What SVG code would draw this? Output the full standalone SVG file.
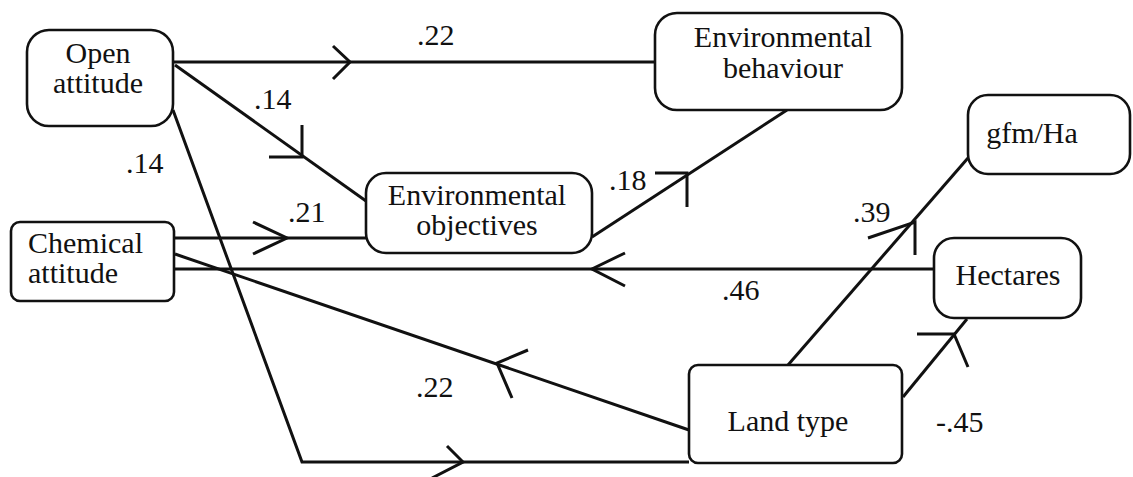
<svg xmlns="http://www.w3.org/2000/svg" width="1133" height="477" viewBox="0 0 1133 477" font-family="'Liberation Serif', 'DejaVu Serif', 'Times New Roman', serif">
  <style>
    .box { fill: #fff; stroke: #111; stroke-width: 2.6; }
    text { font-family: 'Liberation Serif', 'DejaVu Serif', 'Times New Roman', serif; fill: #111; }
    .lbl { font-size: 30px; }
    .num { font-size: 30px; }
    .edge { fill: none; stroke: #111; stroke-width: 3; stroke-linejoin: miter; }
    .head { fill: none; stroke: #111; stroke-width: 3; stroke-linejoin: miter; }
  </style>
  <rect width="1133" height="477" fill="#fff"/>

  <!-- connectors: lines, path arrowheads and coefficients -->
  <g id="connectors">
    <!-- Open attitude -> Environmental behaviour -->
    <path class="edge" d="M173 62 H655"/>
    <path class="head" d="M333 46 L350 62 L333 79"/>
    <text class="num" x="417" y="45">.22</text>

    <!-- Open attitude -> Environmental objectives -->
    <path class="edge" d="M175 65 L366 201"/>
    <path class="head" d="M302 125 V157 H269"/>
    <text class="num" x="254" y="109">.14</text>

    <!-- Open attitude -> Land type -->
    <path class="edge" d="M173 110 L302 462 H689"/>
    <path class="head" d="M447 446 L463 462 L432 478"/>
    <text class="num" x="126" y="173">.14</text>

    <!-- Chemical attitude -> Environmental objectives -->
    <path class="edge" d="M174 238 H366"/>
    <path class="head" d="M253 222 L287 238 L253 254"/>
    <text class="num" x="288" y="222">.21</text>

    <!-- Hectares -> Chemical attitude -->
    <path class="edge" d="M174 269 H934"/>
    <path class="head" d="M625 253 L592 269 L625 286"/>
    <text class="num" x="722" y="300">.46</text>

    <!-- Land type -> Chemical attitude -->
    <path class="edge" d="M175 254 L689 430"/>
    <path class="head" d="M528 350 L497 363 L512 398"/>
    <text class="num" x="416" y="397">.22</text>

    <!-- Environmental objectives -> Environmental behaviour -->
    <path class="edge" d="M592 237 L787 110"/>
    <path class="head" d="M655 173 H687 V207"/>
    <text class="num" x="609" y="190">.18</text>

    <!-- Land type -> gfm/Ha -->
    <path class="edge" d="M788 365 L968 158"/>
    <path class="head" d="M868 238 L915 222 V255"/>
    <text class="num" x="853" y="222">.39</text>

    <!-- Land type -> Hectares -->
    <path class="edge" d="M903 397 L967 319"/>
    <path class="head" d="M917 334 H954 L968 367"/>
    <text class="num" x="936" y="432">-.45</text>
  </g>

  <g id="open-attitude">
    <rect class="box" x="27" y="30" width="146" height="96" rx="22"/>
    <text class="lbl" x="98" y="63" text-anchor="middle">Open</text>
    <text class="lbl" x="98" y="93" text-anchor="middle">attitude</text>
  </g>

  <g id="chemical-attitude">
    <rect class="box" x="11" y="222" width="163" height="79" rx="9"/>
    <text class="lbl" x="28" y="253">Chemical</text>
    <text class="lbl" x="28" y="283">attitude</text>
  </g>

  <g id="environmental-behaviour">
    <rect class="box" x="655" y="13" width="247" height="97" rx="22"/>
    <text class="lbl" x="783" y="47" text-anchor="middle">Environmental</text>
    <text class="lbl" x="783" y="78" text-anchor="middle">behaviour</text>
  </g>

  <g id="environmental-objectives">
    <rect class="box" x="366" y="173" width="226" height="80" rx="20"/>
    <text class="lbl" x="477" y="205" text-anchor="middle">Environmental</text>
    <text class="lbl" x="477" y="235" text-anchor="middle">objectives</text>
  </g>

  <g id="gfm-ha">
    <rect class="box" x="968" y="95" width="162" height="79" rx="20"/>
    <text class="lbl" x="1032" y="143" text-anchor="middle">gfm/Ha</text>
  </g>

  <g id="hectares">
    <rect class="box" x="934" y="238" width="147" height="80" rx="20"/>
    <text class="lbl" x="1008" y="285" text-anchor="middle">Hectares</text>
  </g>

  <g id="land-type">
    <rect class="box" x="689" y="365" width="213" height="98" rx="9"/>
    <text class="lbl" x="788" y="431" text-anchor="middle">Land type</text>
  </g>
</svg>
